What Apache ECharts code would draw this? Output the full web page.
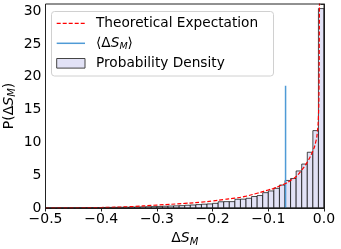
<!DOCTYPE html>
<html>
<head>
<meta charset="utf-8">
<script src="https://cdn.jsdelivr.net/npm/echarts@6/dist/echarts.min.js"></script>
<style>
html,body{margin:0;padding:0;background:#fff;}
#chart{width:341px;height:249px;}
</style>
</head>
<body>
<div id="chart"></div>
<script>
// Histogram bin left edges (width 0.01) and densities
var binStart = [-0.50,-0.49,-0.48,-0.47,-0.46,-0.45,-0.44,-0.43,-0.42,-0.41,
                -0.40,-0.39,-0.38,-0.37,-0.36,-0.35,-0.34,-0.33,-0.32,-0.31,
                -0.30,-0.29,-0.28,-0.27,-0.26,-0.25,-0.24,-0.23,-0.22,-0.21,
                -0.20,-0.19,-0.18,-0.17,-0.16,-0.15,-0.14,-0.13,-0.12,-0.11,
                -0.10,-0.09,-0.08,-0.07,-0.06,-0.05,-0.04,-0.03,-0.02,-0.01];
var binWidth = 0.01;
var density = [0.02,0.02,0.03,0.03,0.04,0.04,0.05,0.06,0.06,0.07,
               0.08,0.09,0.10,0.11,0.12,0.14,0.15,0.17,0.19,0.21,
               0.24,0.27,0.30,0.33,0.36,0.42,0.46,0.52,0.58,0.62,
               0.71,0.95,0.97,0.97,1.33,1.35,1.48,1.75,1.90,2.34,
               2.60,3.00,3.50,4.20,4.50,5.65,6.70,8.50,11.80,30.40];
// Theoretical expectation curve
var theoX = [-0.50,-0.45,-0.40,-0.35,-0.30,-0.25,-0.22,-0.20,-0.18,-0.16,-0.14,-0.12,-0.10,-0.09,-0.08,-0.07,-0.06,-0.05,-0.04,-0.03,-0.02,-0.015,-0.012,-0.010,-0.009,-0.0085,-0.008];
var theoY = [0.00,0.03,0.08,0.20,0.45,0.70,0.90,1.07,1.30,1.50,1.80,2.25,2.75,3.00,3.36,3.70,4.20,4.80,5.80,7.00,8.70,10.00,11.50,14.00,18.00,25.00,34.00];
// Mean line
var meanX = -0.069;
var meanTop = 18.65;
var legendLabels = ['Theoretical Expectation', '⟨ΔS_M⟩', 'Probability Density'];
var yTicks = [0,5,10,15,20,25,30];

var histData = binStart.map(function(s,i){return [s, s+binWidth, density[i]];});
var theoData = theoX.map(function(x,i){return [x, theoY[i]];});

var chart = echarts.init(document.getElementById('chart'), null, {renderer:'canvas'});
var FONT = 'DejaVu Sans';
var LFS = 13.7;
var BLUE = '#4f9bd6';
var nameRich = {
  n:{fontFamily:FONT,fontSize:14,color:'#000'},
  i:{fontFamily:FONT,fontSize:14,fontStyle:'italic',color:'#000'},
  s:{fontFamily:FONT,fontSize:10,fontStyle:'italic',color:'#000',padding:[7,0,0,0]}
};
var legRich = {
  n:{fontFamily:FONT,fontSize:LFS,color:'#000'},
  i:{fontFamily:FONT,fontSize:LFS,fontStyle:'italic',color:'#000'},
  s:{fontFamily:FONT,fontSize:9.5,fontStyle:'italic',color:'#000',padding:[7,0,0,0]}
};
var rowY = [23.3, 43.3, 63.3];
var iconX0 = 56.7, iconX1 = 85, textX = 96;
chart.setOption({
  animation:false,
  grid:{left:45.5,right:17,top:4,bottom:41,containLabel:false,outerBoundsMode:'none'},
  xAxis:{
    type:'value',min:-0.5,max:0,interval:0.1,
    axisLine:{show:true,onZero:false,lineStyle:{color:'#222',width:1}},
    axisTick:{show:true,length:3.5,lineStyle:{color:'#222'}},
    splitLine:{show:false},
    axisLabel:{fontFamily:FONT,fontSize:14,color:'#000',margin:4,
      formatter:function(v){return (v<0?'\u2212':'')+Math.abs(v).toFixed(1);}},
    name:'{n|Δ}{i|S}{s|M}',nameLocation:'middle',nameGap:22,nameMoveOverlap:false,
    nameTextStyle:{rich:nameRich}
  },
  yAxis:{
    type:'value',min:0,max:31.1,interval:5,
    axisLine:{show:true,lineStyle:{color:'#222',width:1}},
    axisTick:{show:true,length:3.5,lineStyle:{color:'#222'}},
    splitLine:{show:false},
    axisLabel:{fontFamily:FONT,fontSize:14,color:'#000',margin:4,
      formatter:function(v){return yTicks.indexOf(v)>=0?String(v):'';}},
    name:'{n|P(Δ}{i|S}{s|M}{n|)}',nameLocation:'middle',nameGap:28,nameMoveOverlap:false,
    nameTextStyle:{rich:nameRich}
  },
  series:[
    {
      name:'Probability Density',type:'custom',data:histData,
      encode:{x:[0,1],y:2},
      renderItem:function(params,api){
        var p0=api.coord([api.value(0),api.value(2)]);
        var p1=api.coord([api.value(1),0]);
        return {type:'rect',shape:{x:p0[0],y:p0[1],width:p1[0]-p0[0],height:p1[1]-p0[1]},
          style:{fill:'#e2e2f6',stroke:'rgba(0,0,0,0.7)',lineWidth:1}};
      },
      z:1
    },
    {
      name:'mean',type:'line',data:[[meanX,0],[meanX,meanTop]],
      showSymbol:false,symbol:'none',lineStyle:{color:BLUE,width:1.5},z:3
    },
    {
      name:'Theoretical Expectation',type:'line',data:theoData,smooth:true,
      showSymbol:false,symbol:'none',clip:true,
      lineStyle:{color:'#ff0000',width:1.2,type:[4,2]},z:4
    }
  ],
  graphic:[
    {type:'rect',shape:{x:45.5,y:4,width:278.5,height:204},style:{fill:'none',stroke:'#222',lineWidth:1},z:10,silent:true},
    {type:'rect',shape:{x:51.5,y:11.5,width:222,height:64.5,r:3},style:{fill:'rgba(255,255,255,0.9)',stroke:'#d0d0d0',lineWidth:1},z:20,silent:true},
    {type:'line',shape:{x1:iconX0,y1:rowY[0],x2:iconX1,y2:rowY[0]},style:{stroke:'#ff0000',lineWidth:1.2,lineDash:[4,2]},z:21,silent:true},
    {type:'text',x:textX,y:rowY[0],style:{text:'{n|'+legendLabels[0]+'}',rich:legRich,verticalAlign:'middle'},z:21,silent:true},
    {type:'line',shape:{x1:iconX0,y1:rowY[1],x2:iconX1,y2:rowY[1]},style:{stroke:BLUE,lineWidth:1.5},z:21,silent:true},
    {type:'text',x:textX,y:rowY[1],style:{text:'{n|⟨Δ}{i|S}{s|M}{n|⟩}',rich:legRich,verticalAlign:'middle'},z:21,silent:true},
    {type:'rect',shape:{x:iconX0,y:rowY[2]-4.8,width:iconX1-iconX0,height:9.6},style:{fill:'#e2e2f6',stroke:'#444',lineWidth:1},z:21,silent:true},
    {type:'text',x:textX,y:rowY[2],style:{text:'{n|'+legendLabels[2]+'}',rich:legRich,verticalAlign:'middle'},z:21,silent:true}
  ]
});
</script>
</body>
</html>
